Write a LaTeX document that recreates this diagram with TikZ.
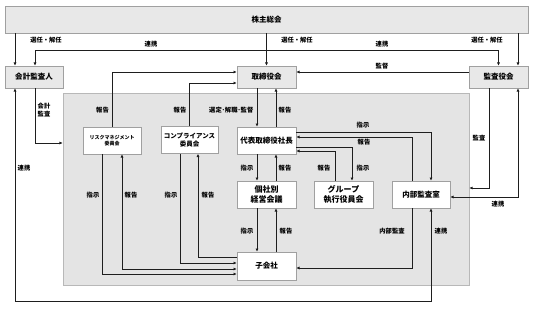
\documentclass[tikz,border=0pt]{standalone}
\usepackage{fontspec}
\newfontfamily\jp{Noto Sans CJK JP}
\usetikzlibrary{arrows.meta}
\definecolor{boxline}{HTML}{A0A0A0}
\definecolor{topfill}{HTML}{E8E8E8}
\definecolor{areafill}{HTML}{E4E4E4}
\definecolor{arealine}{HTML}{B8B8B8}
\definecolor{ink}{HTML}{1E1E1E}
\tikzset{
  box/.style={draw=boxline, fill=white, line width=0.6pt, minimum width=58pt, minimum height=27pt,
    inner sep=1pt, align=center, font=\jp\bfseries\fontsize{7.5}{9}\selectfont},
  topbox/.style={box, fill=topfill, minimum height=22pt},
  lbl/.style={font=\jp\bfseries\fontsize{6.3}{7.5}\selectfont, inner sep=0.5pt, align=center},
  arr/.style={draw=ink, line width=0.9pt, -{Latex[length=3.2pt,width=3pt]}},
  dbl/.style={draw=ink, line width=0.9pt, {Latex[length=3.2pt,width=3pt]}-{Latex[length=3.2pt,width=3pt]}}
}
\begin{document}
\begin{tikzpicture}[x=1pt,y=-1pt]
\useasboundingbox (0,0) rectangle (546,313);
% blocks
\node[draw=arealine, fill=areafill, line width=0.7pt, minimum width=406pt, minimum height=192pt, inner sep=0pt] (area) at (266,189) {};
\node[topbox, minimum width=523pt, minimum height=27pt] (gm) at (266.5,19.5) {株主総会};
\node[topbox] (aud) at (34,77) {会計監査人};
\node[topbox, minimum width=59pt] (bod) at (266.5,77) {取締役会};
\node[topbox, minimum width=59pt] (kan) at (498.5,77) {監査役会};
\node[box, font=\jp\bfseries\fontsize{5}{6.5}\selectfont] (risk) at (112,140.5) {リスクマネジメント\\委員会};
\node[box, minimum width=57pt, font=\jp\bfseries\fontsize{6.5}{7.5}\selectfont] (comp) at (189.5,140) {コンプライアンス\\委員会};
\node[box, minimum width=59pt] (ceo) at (266.5,140.5) {代表取締役社長};
\node[box, minimum width=59pt, font=\jp\bfseries\fontsize{8}{9.5}\selectfont] (kosha) at (266.5,194.5) {個社別\\経営会議};
\node[box, minimum width=59pt, font=\jp\bfseries\fontsize{8}{9.5}\selectfont] (grp) at (343.5,194.5) {グループ\\執行役員会};
\node[box] (ia) at (421,194.5) {内部監査室};
\node[box, minimum width=59pt, minimum height=28pt] (sub) at (266.5,266) {子会社};
\coordinate (lk) at (431,301);
% shareholders
\draw[arr] ([xshift=-19pt]aud.north |- gm.south) -- ([xshift=-19pt]aud.north);
\draw[arr] (bod.north |- gm.south) -- (bod.north);
\draw[arr] ([xshift=19.5pt]kan.north |- gm.south) -- ([xshift=19.5pt]kan.north);
\node[lbl] at (46,40) {選任・解任};
\node[lbl] at (297,40) {選任・解任};
\node[lbl] at (487,40) {選任・解任};
\draw[dbl] ([xshift=1pt]aud.north) |- ([yshift=-17pt]gm.south) -| (kan.north);
\node[lbl] at (151,44) {連携};
\node[lbl] at (382,44) {連携};
\draw[arr] ([yshift=5pt]kan.west) -- ([yshift=5pt]bod.east);
\node[lbl] at (382,66) {監督};
% auditors
\draw[arr] ([xshift=1pt]aud.south) |- ([yshift=46pt]area.west);
\node[lbl] at (44,110) {会計\\監査};
\draw[dbl] ([xshift=-19pt]aud.south) |- (lk) -- ([xshift=10pt]ia.south);
\node[lbl] at (24,168) {連携};
\node[lbl] at (441,231) {連携};
\draw[arr] ([xshift=-9.5pt]kan.south) |- ([yshift=1pt]area.east);
\node[lbl] at (479,138) {監査};
\draw[dbl] ([xshift=19.5pt]kan.south) |- ([yshift=-2.5pt]ia.east);
\node[lbl] at (498,204) {連携};
% committees to board
\draw[arr] (risk.north) |- ([yshift=5pt]bod.west);
\draw[arr] (comp.north) |- ([yshift=-6pt]bod.west);
\node[lbl] at (102.5,110) {報告};
\node[lbl] at (180,110) {報告};
% board and president
\draw[arr] ([xshift=-9.5pt]bod.south) -- ([xshift=-9.5pt]ceo.north);
\draw[arr] ([xshift=9.5pt]ceo.north) -- ([xshift=9.5pt]bod.south);
\node[lbl, anchor=east] at (254,110) {選定･解職･監督};
\node[lbl] at (285,110) {報告};
\draw[arr] ([yshift=8.5pt]ceo.east) -| ([xshift=10pt]ia.north);
\draw[arr] ([xshift=-9pt]ia.north) |- ([yshift=3.5pt]ceo.east);
\node[lbl] at (363,125) {指示};
\node[lbl] at (364,142) {報告};
\draw[arr] ([yshift=-6.5pt]ceo.east) -| ([xshift=8.5pt]grp.north);
\draw[arr] ([xshift=-8.5pt]grp.north) |- ([yshift=-10.5pt]ceo.east);
\node[lbl] at (324,168) {報告};
\node[lbl] at (363,168) {指示};
\draw[arr] ([xshift=-9.5pt]ceo.south) -- ([xshift=-9.5pt]kosha.north);
\draw[arr] ([xshift=9.5pt]kosha.north) -- ([xshift=9.5pt]ceo.south);
\node[lbl] at (247,168) {指示};
\node[lbl] at (285,168) {報告};
\draw[arr] ([xshift=-9.5pt]kosha.south) -- ([xshift=-9.5pt]sub.north);
\draw[arr] ([xshift=9.5pt]sub.north) -- ([xshift=9.5pt]kosha.south);
\node[lbl] at (247,231) {指示};
\node[lbl] at (286,231) {報告};
\draw[arr] ([xshift=-9pt]ia.south) |- ([yshift=-2pt]sub.east);
\node[lbl] at (392,231) {内部監査};
% committees to subsidiaries
\draw[arr] ([xshift=-10pt]risk.south) |- ([yshift=-8pt]sub.west);
\draw[dbl] ([yshift=-3pt]sub.west) -| ([xshift=10pt]risk.south);
\draw[arr] ([xshift=-9.5pt]comp.south) |- ([yshift=3pt]sub.west);
\draw[arr] ([yshift=9pt]sub.west) -| ([xshift=8.5pt]comp.south);
\node[lbl] at (93,195) {指示};
\node[lbl] at (131,195) {報告};
\node[lbl] at (171,195) {指示};
\node[lbl] at (208,195) {報告};
\end{tikzpicture}
\end{document}
